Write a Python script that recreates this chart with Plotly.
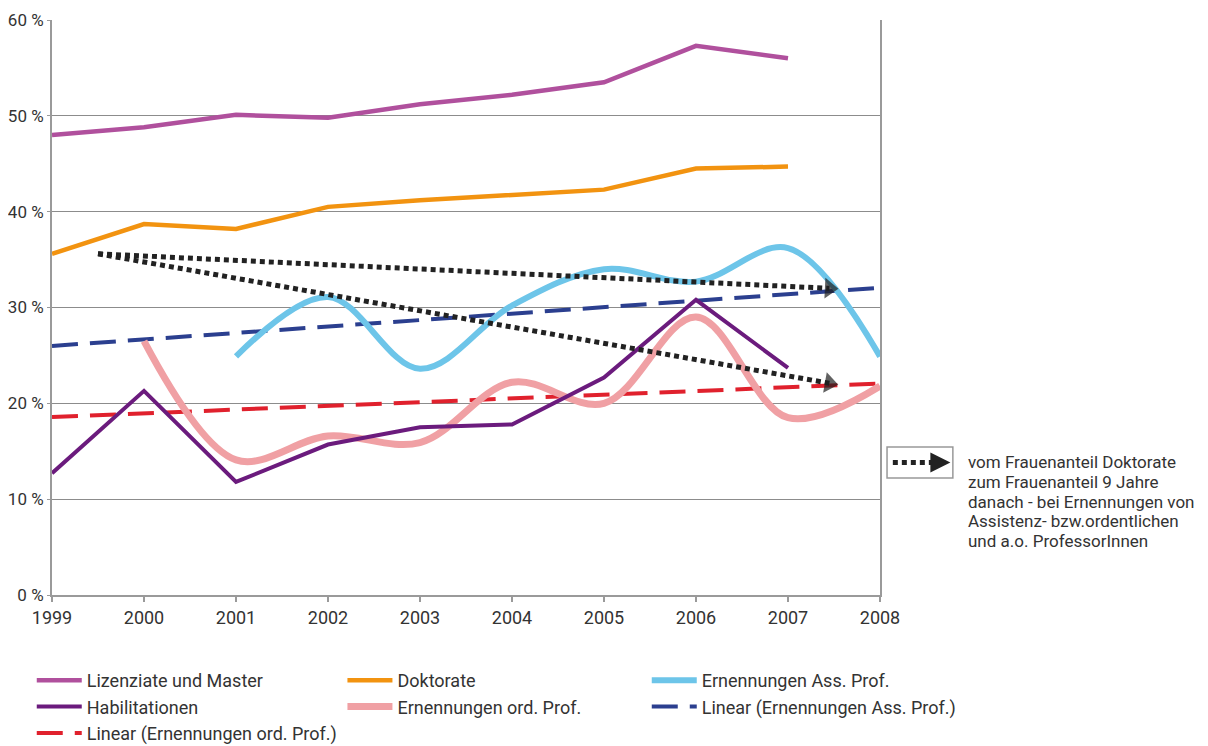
import numpy as np
import plotly.graph_objects as go

years = [1999, 2000, 2001, 2002, 2003, 2004, 2005, 2006, 2007, 2008]
x_ticks = years
y_ticks = [0, 10, 20, 30, 40, 50, 60]
y_ticktext = ["0 %", "10 %", "20 %", "30 %", "40 %", "50 %", "60 %"]

lizenziate = [48.0, 48.8, 50.1, 49.8, 51.2, 52.2, 53.5, 57.3, 56.0]
lizenziate_years = years[:9]
doktorate = [35.6, 38.7, 38.2, 40.5, 41.2, 41.7, 42.3, 44.5, 44.7]
doktorate_years = years[:9]
habilitationen = [12.7, 21.3, 11.8, 15.7, 17.5, 17.8, 22.7, 30.8, 23.7]
habil_years = years[:9]
ord_prof = [26.5, 14.1, 16.6, 15.9, 22.2, 20.0, 29.0, 18.5, 21.8]
ord_years = years[1:]
ass_prof = [24.9, 31.1, 23.6, 30.2, 34.0, 32.7, 36.2, 24.9]
ass_years = years[2:]

arrow_x = [1999.5, 2007.45]
arrow_upper = [35.6, 32.0]
arrow_lower = [35.6, 22.1]

names = ["Lizenziate und Master", "Doktorate", "Ernennungen Ass. Prof.",
         "Habilitationen", "Ernennungen ord. Prof.",
         "Linear (Ernennungen Ass. Prof.)", "Linear (Ernennungen ord. Prof.)"]
note_lines = ["vom Frauenanteil Doktorate", "zum Frauenanteil 9 Jahre",
              "danach - bei Ernennungen von", "Assistenz- bzw.ordentlichen",
              "und a.o. ProfessorInnen"]

FONT = "Roboto, Liberation Sans, sans-serif"
TXT = "#333333"

trend_x = [years[0], years[-1]]
ca = np.polyfit(ass_years, ass_prof, 1)
trend_ass = list(np.polyval(ca, trend_x))
co = np.polyfit(ord_years, ord_prof, 1)
trend_ord = list(np.polyval(co, trend_x))

fig = go.Figure()

def add(x, y, name, color, width, legend, rank, shape="linear", dash="solid"):
    fig.add_trace(go.Scatter(x=x, y=y, name=name, mode="lines",
                             line=dict(color=color, width=width, shape=shape,
                                       dash=dash, smoothing=1.0),
                             legend=legend, legendrank=rank,
                             hoverinfo="x+y+name"))

# draw order (bottom to top)
add(trend_x, trend_ass, names[5], "#2b3f8f", 4, "legend3", 2, dash="26px,12px")
add(trend_x, trend_ord, names[6], "#e0212d", 4, "legend", 3, dash="26px,12px")
add(ass_years, ass_prof, names[2], "#6dc5e9", 6, "legend3", 1, shape="spline")
add(ord_years, ord_prof, names[4], "#f0a0a4", 7, "legend2", 2, shape="spline")
add(lizenziate_years, lizenziate, names[0], "#b0509d", 4.5, "legend", 1)
add(doktorate_years, doktorate, names[1], "#f29310", 4.5, "legend2", 1)
add(habil_years, habilitationen, names[3], "#6b1b7d", 4, "legend", 2)

for ys in (arrow_upper, arrow_lower):
    fig.add_trace(go.Scatter(x=arrow_x, y=ys, mode="lines+markers",
                             line=dict(color="#222222", width=5, dash="5px,4px"),
                             marker=dict(symbol=["circle", "triangle-up"], size=[0, 18],
                                         angleref="previous", color="#1e1e1e",
                                         line=dict(width=0)),
                             showlegend=False, hoverinfo="skip"))

legend_common = dict(orientation="v", xref="container", yref="container",
                     xanchor="left", yanchor="top", bgcolor="rgba(0,0,0,0)",
                     font=dict(family=FONT, size=18, color=TXT),
                     itemwidth=45, traceorder="normal", tracegroupgap=0)

LY = 0.1138
fig.update_layout(
    width=1200, height=738,
    margin=dict(l=44, r=328, t=12, b=151, autoexpand=False),
    paper_bgcolor="white", plot_bgcolor="white",
    font=dict(family=FONT, size=18, color=TXT),
    legend=dict(x=0.0198, y=LY, **legend_common),
    legend2=dict(x=0.2787, y=LY, **legend_common),
    legend3=dict(x=0.5323, y=LY, **legend_common),
    xaxis=dict(range=[1999, 2008], tickvals=x_ticks, ticktext=[str(v) for v in x_ticks],
               showgrid=False, showline=True, linecolor="#9a9a9a", linewidth=2,
               ticks="outside", ticklen=5, tickcolor="#9a9a9a", tickwidth=1.5,
               tickfont=dict(family=FONT, size=18, color=TXT), zeroline=False,
               automargin=False),
    yaxis=dict(range=[0, 60], tickvals=y_ticks, ticktext=y_ticktext,
               showgrid=True, gridcolor="#8c8c8c", gridwidth=1,
               showline=True, linecolor="#9a9a9a", linewidth=2, mirror=True,
               ticks="outside", ticklen=3, tickcolor="#9a9a9a",
               tickfont=dict(family=FONT, size=17, color=TXT), zeroline=False,
               automargin=False),
    showlegend=True,
)

# explanatory box for the dotted arrows
fig.add_shape(type="rect", xref="paper", yref="paper",
              x0=1.0085, x1=1.088, y0=0.2035, y1=0.2574,
              line=dict(color="#999999", width=1.5), fillcolor="white")
fig.add_shape(type="line", xref="paper", yref="paper",
              x0=1.0155, x1=1.066, y0=0.2305, y1=0.2305,
              line=dict(color="#222222", width=5, dash="5px,4px"))
fig.add_annotation(xref="paper", yref="paper", x=1.085, y=0.2305, ax=-12, ay=0,
                   text="", showarrow=True, arrowhead=2, arrowsize=1.0,
                   arrowwidth=4, arrowcolor="#222222")
for i, line in enumerate(note_lines):
    py = 462 + i * 19.75
    fig.add_annotation(xref="paper", yref="paper", x=1.104, y=(595 - py) / 575,
                       xanchor="left", yanchor="middle", align="left", showarrow=False,
                       text=line, font=dict(family=FONT, size=17, color=TXT))

fig.write_html("out.html")
